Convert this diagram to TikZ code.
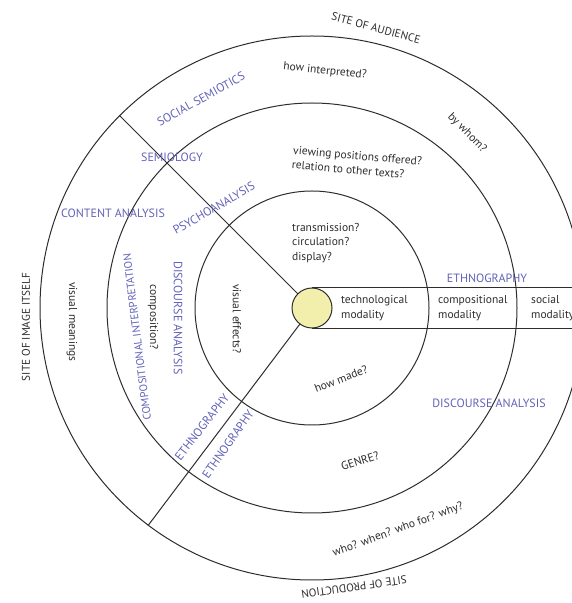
\documentclass[tikz,border=0pt]{standalone}
\usepackage{fontspec}
\setmainfont{PT Sans}
\usetikzlibrary{positioning, calc, shapes}

\definecolor{ink}{RGB}{45,45,45}
\definecolor{semblue}{RGB}{98,98,184}
\definecolor{hub}{RGB}{242,238,172}

\tikzset{
  ring/.style={circle, draw=ink, line width=1pt, inner sep=0pt},
  spoke/.style={draw=ink, line width=1pt},
  txt/.style={text=ink, font=\fontsize{11.5}{14.5}\selectfont, inner sep=1pt},
  meth/.style={text=semblue, font=\fontsize{12}{14}\selectfont, inner sep=1pt},
  site/.style={text=ink, font=\fontsize{11.2}{13}\selectfont, inner sep=1pt}
}

\begin{document}
\begin{tikzpicture}[x=1pt, y=1pt]
\useasboundingbox (0,0) rectangle (572,603);
\clip (0,0) rectangle (572,603);
\coordinate (C) at (312,295);
\coordinate (E) at (580,295);
\node[ring, minimum size=544] (R3) at (C) {};
\node[ring, minimum size=410] (R2) at (C) {};
\node[ring, minimum size=234] (R1) at (C) {};
\draw[spoke] (C) -- (R3.135);
\draw[spoke] (C) -- (R3.233);
\node[ring, fill=hub, minimum size=40] (Hub) at (C) {};
\draw[spoke] (Hub.north) -- (Hub.north -| E);
\draw[spoke] (Hub.south) -- (Hub.south -| E);
\node[site, rotate=-15] (Aud) at ($(C)+(64,280)$) {SITE OF AUDIENCE};
\node[site, rotate=188] (Prod) at ($(C)+(42,-279)$) {SITE OF PRODUCTION};
\node[site, rotate=90] (Itself) at ($(C)+(-286,-19)$) {SITE OF IMAGE ITSELF};
\node[txt, rotate=-6] (Interp) at ($(C)+(13,237)$) {how interpreted?};
\node[txt, rotate=-45] (Whom) at ($(C)+(155,175)$) {by whom?};
\node[txt, rotate=-5, align=left] (View) at ($(C)+(45,145)$) {viewing positions offered?\\relation to other texts?};
\node[txt, align=left, anchor=west] (Trans) at ($(C)+(-21,65)$) {transmission?\\circulation?\\display?};
\node[txt, align=left, right=28pt of C] (Tech) {technological\\modality};
\node[txt, align=left, right=125pt of C] (Comp) {compositional\\modality};
\node[txt, align=left, right=218pt of C] (Soc) {social\\modality};
\node[txt, rotate=21] (Made) at ($(C)+(29,-71)$) {how made?};
\node[txt, rotate=18] (Genre) at ($(C)+(48,-153)$) {GENRE?};
\node[txt, rotate=20] (Who) at ($(C)+(86,-222)$) {who? when? who for? why?};
\node[txt, rotate=-90] (Mean) at ($(C)+(-240,-14)$) {visual meanings};
\node[txt, rotate=-90] (Compo) at ($(C)+(-159,-9)$) {composition?};
\node[txt, rotate=-90] (Eff) at ($(C)+(-75,-11)$) {visual effects?};
\node[meth] (EthR) at ($(C)+(175,30)$) {ETHNOGRAPHY};
\node[meth] (DiscR) at ($(C)+(177,-95)$) {DISCOURSE ANALYSIS};
\node[meth, rotate=-90] (DiscL) at ($(C)+(-134,-10)$) {DISCOURSE ANALYSIS};
\node[meth, rotate=97, font=\fontsize{11}{13}\selectfont] (CompI) at ($(C)+(-175,-29)$) {COMPOSITIONAL INTERPRETATION};
\node[meth, rotate=29] (SocS) at ($(C)+(-111,209)$) {SOCIAL SEMIOTICS};
\node[meth] (Semi) at ($(C)+(-140,151)$) {SEMIOLOGY};
\node[meth] (Cont) at ($(C)+(-199,95)$) {CONTENT ANALYSIS};
\node[meth, rotate=30] (Psy) at ($(C)+(-98,100)$) {PSYCHOANALYSIS};
\node[meth, rotate=52] (EthA) at ($(C)+(-110,-119)$) {ETHNOGRAPHY};
\node[meth, rotate=55] (EthB) at ($(C)+(-84,-136)$) {ETHNOGRAPHY};
\end{tikzpicture}
\end{document}
